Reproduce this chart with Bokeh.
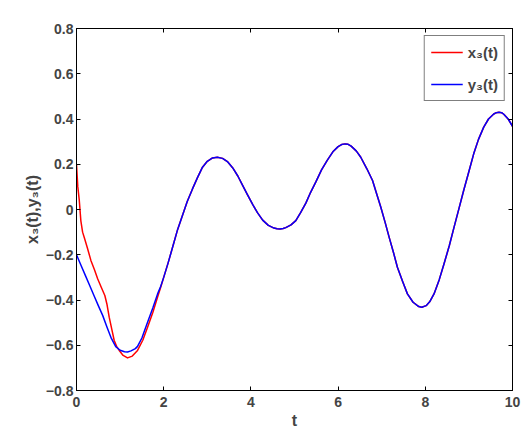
from bokeh.plotting import figure
from bokeh.models import LinearAxis, FixedTicker, Legend, LegendItem, Range1d
from bokeh.embed import file_html
from bokeh.resources import INLINE

# shared tail (both curves coincide after t ~ 2)
t_tail = [2.0, 2.1, 2.22, 2.32, 2.43, 2.54, 2.66, 2.78, 2.89, 3.0, 3.12, 3.23, 3.35,
          3.47, 3.58, 3.7, 3.81, 3.92, 4.04, 4.15, 4.27, 4.4, 4.53, 4.6, 4.67, 4.74, 4.8, 4.92,
          5.03, 5.14, 5.26, 5.37, 5.49, 5.62, 5.75, 5.88, 6.0, 6.08, 6.16, 6.23, 6.3, 6.42, 6.52,
          6.66, 6.79, 6.88, 6.98, 7.08, 7.17, 7.27, 7.36, 7.48, 7.59, 7.72, 7.85, 7.92,
          8.02, 8.1, 8.2, 8.32, 8.43, 8.55, 8.66, 8.77, 8.88, 9.0, 9.11, 9.22, 9.34,
          9.45, 9.57, 9.63, 9.69, 9.75, 9.8, 9.9, 10.0]
v_tail = [-0.300, -0.237, -0.156, -0.088, -0.027, 0.035, 0.091, 0.143, 0.187, 0.213,
          0.228, 0.231, 0.226, 0.210, 0.185, 0.148, 0.107, 0.066, 0.023, -0.014, -0.047,
          -0.070, -0.082, -0.085, -0.086, -0.084, -0.080, -0.068, -0.049, -0.014, 0.028, 0.076, 0.122,
          0.175, 0.217, 0.255, 0.278, 0.287, 0.290, 0.288, 0.280, 0.258, 0.231, 0.180, 0.128, 0.072,
          0.010, -0.058, -0.122, -0.190, -0.255, -0.318, -0.373, -0.410, -0.429, -0.432,
          -0.425, -0.408, -0.373, -0.310, -0.240, -0.160, -0.078, 0.003, 0.084, 0.168,
          0.246, 0.310, 0.364, 0.400, 0.422, 0.428, 0.430, 0.428, 0.421, 0.400, 0.368]

# early part of x3(t)
t_x3_early = [0.0, 0.03, 0.064, 0.1, 0.14, 0.18, 0.25, 0.33, 0.41, 0.485, 0.57, 0.65,
              0.7, 0.75, 0.81, 0.865, 0.92, 0.98, 1.07, 1.17, 1.28, 1.4, 1.52, 1.63,
              1.75, 1.86, 1.93]
x3_early = [0.20, 0.10, 0.04, -0.05, -0.10, -0.125, -0.17, -0.225, -0.265, -0.306,
            -0.345, -0.38, -0.42, -0.476, -0.53, -0.579, -0.605, -0.623, -0.645, -0.656,
            -0.648, -0.623, -0.578, -0.52, -0.455, -0.387, -0.345]

# early part of y3(t)
t_y3_early = [0.0, 0.1, 0.2, 0.3, 0.4, 0.5, 0.6, 0.7, 0.8, 0.9, 1.0, 1.1, 1.17, 1.25,
              1.35, 1.4, 1.5, 1.63, 1.75, 1.86, 1.93]
y3_early = [-0.200, -0.245, -0.290, -0.335, -0.380, -0.425, -0.468, -0.52, -0.57,
            -0.606, -0.622, -0.629, -0.630, -0.625, -0.615, -0.605, -0.568, -0.498,
            -0.435, -0.373, -0.34]

x_ticks = [0, 2, 4, 6, 8, 10]
y_ticks = [-0.8, -0.6, -0.4, -0.2, 0, 0.2, 0.4, 0.6, 0.8]
y_tick_labels = ["\u22120.8", "\u22120.6", "\u22120.4", "\u22120.2", "0", "0.2", "0.4", "0.6", "0.8"]
x_tick_labels = ["0", "2", "4", "6", "8", "10"]

t_x3 = t_x3_early + t_tail
x3 = x3_early + v_tail
t_y3 = t_y3_early + t_tail
y3 = y3_early + v_tail

FONT = "Liberation Sans"

p = figure(frame_width=436, frame_height=362, output_backend="svg", toolbar_location=None,
           x_range=Range1d(0, 10), y_range=Range1d(-0.8, 0.8),
           min_border_left=76, min_border_right=12, min_border_top=28, min_border_bottom=45,
           x_axis_label="t", y_axis_label="x\u2083(t),y\u2083(t)")
p.grid.visible = False
p.outline_line_color = "black"
p.outline_line_width = 1
p.background_fill_color = "white"
p.border_fill_color = "white"

r1 = p.line(t_x3, x3, line_color="#ff0000", line_width=1.5, line_join="round")
r2 = p.line(t_y3, y3, line_color="#0000ff", line_width=1.5, line_join="round")

def style_axis(ax, labels=True):
    ax.axis_line_color = "black"
    ax.major_tick_in = 4
    ax.major_tick_out = 0
    ax.minor_tick_line_color = None
    ax.major_tick_line_color = "black"
    ax.major_label_text_font = FONT
    ax.major_label_text_font_style = "bold"
    ax.major_label_text_font_size = "14px" if labels else "0px"
    ax.axis_label_text_font = FONT
    ax.axis_label_text_font_style = "bold"
    ax.axis_label_text_font_size = "16px"
    if not labels:
        ax.major_label_standoff = 0

xa = p.xaxis[0]
ya = p.yaxis[0]
xa.ticker = FixedTicker(ticks=x_ticks)
ya.ticker = FixedTicker(ticks=y_ticks)
xa.major_label_overrides = {t: s for t, s in zip(x_ticks, x_tick_labels)}
ya.major_label_overrides = {t: s for t, s in zip(y_ticks, y_tick_labels)}
style_axis(xa)
style_axis(ya)
xa.major_label_standoff = 6
xa.axis_label_standoff = 2
ya.major_label_standoff = 3
ya.axis_label_standoff = 2

top = LinearAxis(ticker=FixedTicker(ticks=x_ticks))
right = LinearAxis(ticker=FixedTicker(ticks=y_ticks))
style_axis(top, labels=False)
style_axis(right, labels=False)
top.major_label_text_color = None
right.major_label_text_color = None
p.add_layout(top, "above")
p.add_layout(right, "right")

legend = Legend(items=[LegendItem(label="x\u2083(t)", renderers=[r1]),
                       LegendItem(label="y\u2083(t)", renderers=[r2])],
                location="top_right")
legend.margin = 7
legend.padding = 6
legend.spacing = 12
legend.label_height = 20
legend.glyph_height = 20
legend.glyph_width = 32
legend.label_standoff = 5
legend.label_text_font = FONT
legend.label_text_font_style = "bold"
legend.label_text_font_size = "15px"
legend.border_line_color = "black"
legend.border_line_width = 1
legend.background_fill_color = "white"
legend.background_fill_alpha = 1
p.add_layout(legend)

open("out.html", "w").write(file_html(p, INLINE))
